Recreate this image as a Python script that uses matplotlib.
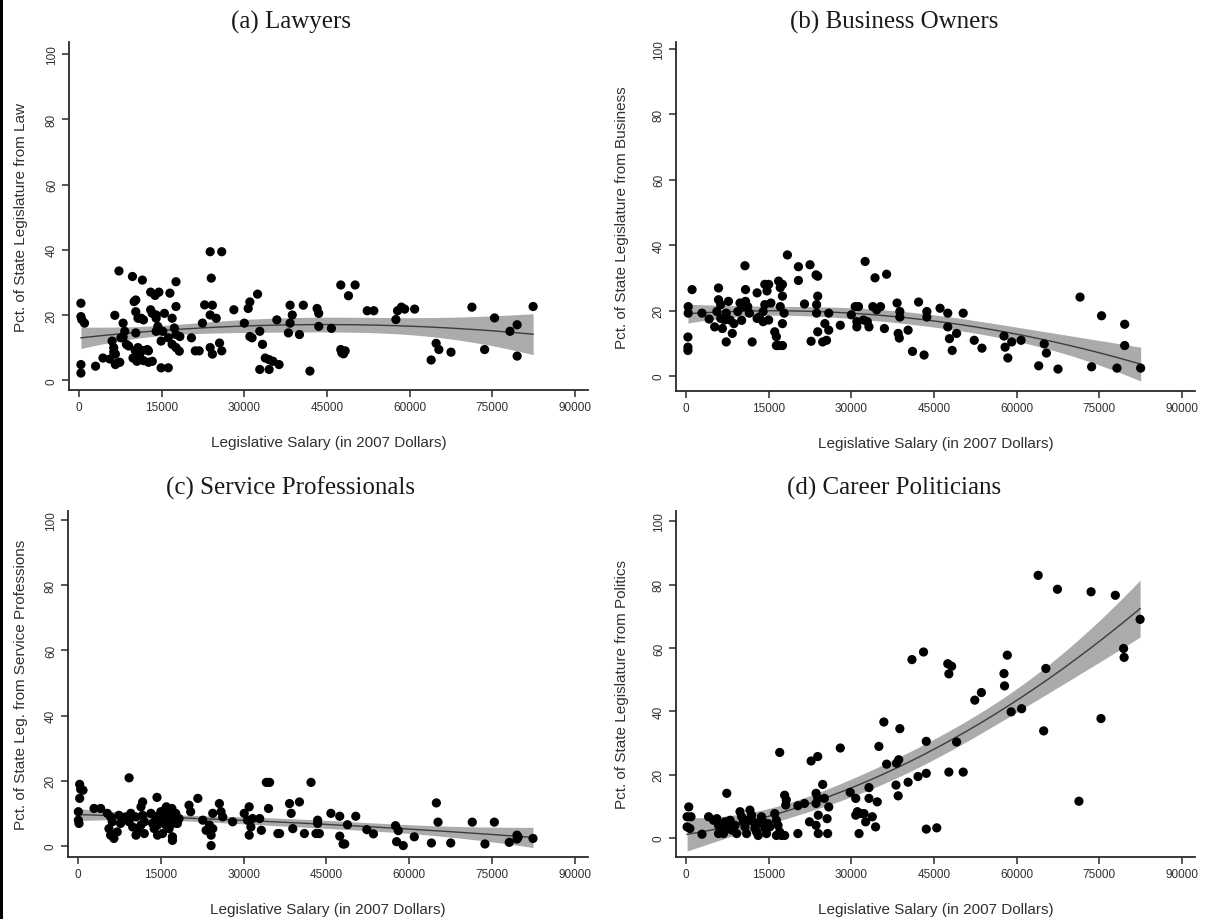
import numpy as np
import matplotlib
matplotlib.use("Agg")
import matplotlib.pyplot as plt
from matplotlib.patches import Rectangle

# ---------------- data ----------------
law_salary = [350, 350, 500, 1000, 350, 350, 3000, 4350, 6500, 7250,
              6000, 6300, 6600, 7000, 6600, 8000, 8300, 7600, 8600,
              9700, 10000, 10300, 10300, 10700, 10300, 11500, 11300, 11700,
              10700, 11000, 11700, 9800, 10500, 13000, 13800, 14500,
              13000, 13300, 14000, 12400, 13300, 14000, 14300, 14000, 14900,
              14900, 16200, 15500, 15200, 16500, 17600, 17600, 16900, 17300, 17600,
              16200, 16900, 17600, 18300, 18200, 20400, 21100, 21800,
              22800, 22400, 23800, 25900, 24000, 24200, 23800, 24900,
              23800, 24200, 25500, 25900, 28100, 30000, 30700, 31000,
              31000, 31400, 32400, 32800, 33300, 32800, 33800, 34500, 34500,
              35200, 36300, 35900, 38300, 38700, 38300, 38000, 40700, 40000,
              41900, 43200, 43500, 43500, 45800, 47500, 50100, 48900,
              47500, 48000, 48300, 47700, 52300, 53500, 57500, 57800, 58500,
              59100, 60900, 63900, 64800, 65300, 67500, 71300, 73600, 75400,
              78200, 79500, 79500, 82400,
              7400, 8000, 6300, 11500, 12600, 12600, 10200, 5600, 9000]
law_pct = [23.6, 19.5, 18.6, 17.5, 4.8, 2.2, 4.3, 6.8, 19.9, 33.5,
           12, 10, 8, 5.3, 4.8, 17.5, 15, 13, 11,
           31.8, 24.1, 24.6, 21, 19, 14.5, 30.7, 19, 18.5,
           10, 8, 6, 6.8, 5.8, 27, 26, 27,
           21.6, 20.5, 20, 9.4, 5.8, 19, 16.5, 15, 12,
           3.8, 3.8, 20.5, 15, 26.7, 30.2, 22.6, 19, 16, 14,
           13, 11, 10, 13.4, 8.9, 13, 9, 9,
           23.1, 17.5, 39.4, 39.4, 31.3, 23, 20, 19,
           10, 8, 11.4, 9, 21.6, 17.5, 22, 24,
           13.4, 13, 26.4, 15, 11, 3.3, 6.8, 6.3, 3.3,
           5.8, 4.8, 18.5, 23, 20, 17.5, 14.5, 23, 14,
           2.8, 22, 20.5, 16.5, 15.9, 29.2, 29.2, 25.9,
           9.4, 8.1, 9.0, 8.4, 21.3, 21.3, 18.6, 21.3, 22.4,
           21.8, 21.8, 6.2, 11.3, 9.4, 8.6, 22.4, 9.4, 19.1,
           15, 17, 7.4, 22.6,
           5.5, 13.2, 8.6, 9.1, 9.0, 5.5, 9.1, 6.5, 10.5]

bus_salary = [350, 350, 350, 400, 400, 1100, 2900, 4200, 5200,
              5900, 5900, 6300, 5600, 6300, 6600, 7300, 7700, 7300, 8000, 7000,
              8400, 8700, 9800, 9400, 10100, 10700, 10800, 10800, 11200, 11500, 10500,
              12000, 12900, 13300, 12900, 14000, 14300, 15000, 14700,
              14300, 15400, 14000, 15000, 16100, 16400, 16400, 16800,
              16800, 17100, 17500, 17500, 17100, 17800, 17500, 17500, 18400,
              20400, 20400, 21500, 22500, 22700, 23600, 23900,
              23900, 23700, 23700, 23900, 24800, 25500, 25200, 25900, 25900,
              28000, 30000, 30700, 31300, 31000, 31000, 32500, 32900, 33200, 32200,
              33900, 34600, 35300, 34300, 36400, 36000,
              38300, 38800, 38800, 38500, 38700, 40300, 41100, 42200, 43200, 43700, 43700,
              46100, 47500, 47500, 47800, 48300, 49100, 50300, 52300, 53700,
              57700, 57900, 58400, 59100, 60800, 64000, 65000, 65400, 67500,
              71500, 73600, 75400, 78200, 79600, 79600, 82500]
bus_pct = [11.9, 8.8, 7.8, 21.2, 19.2, 26.4, 19.2, 17.4, 15,
           26.9, 23.3, 21.8, 19.7, 17.6, 14.5, 10.4, 22.8, 19.2, 17.1, 17.1,
           13, 16, 22.3, 19.7, 17, 33.7, 26.4, 22.8, 21.2, 19.2, 21.2,
           10.4, 25.4, 18, 17.6, 19.7, 28, 28, 26,
           21.8, 22.3, 16.6, 17.1, 13.5, 12, 9.3, 9.3,
           29, 27, 28, 24.4, 21.2, 19.2, 16, 9.3, 37,
           33.4, 29.2, 22, 34, 10.6, 30.9, 30.5,
           24.4, 21.8, 19.2, 13.5, 10.4, 10.9, 16, 19.2, 14,
           15.5, 18.7, 21.2, 21.2, 15, 16.6, 35, 16.6, 15, 17.1,
           21.2, 20.2, 21.2, 30, 31.1, 14.5,
           22.3, 19.7, 18, 13, 11.6, 14, 7.5, 22.6, 6.4, 19.7, 18,
           20.7, 19.2, 15, 11.4, 7.8, 13, 19.2, 10.9, 8.5,
           12.2, 8.8, 5.5, 10.4, 10.9, 3.1, 9.8, 7, 2.1,
           24.1, 2.8, 18.4, 2.4, 15.8, 9.3, 2.4]

svc_salary = [300, 480, 900, 300, 60, 60, 180, 2900, 4100,
              5300, 5900, 6200, 5600, 5900, 6500, 7100, 7700, 7400,
              9250, 8650, 9250, 9900, 9560, 10500, 10800, 10500,
              11400, 11700, 11700, 12000, 11400, 12000, 13200, 13500, 13800,
              14300, 14700, 14400, 15300, 15300, 14400, 15900, 15900, 15600,
              16200, 16800, 16500, 17100, 17100, 17400, 17700, 18000, 18300,
              16000, 17000, 14000, 16500, 17500, 15000,
              20100, 20400, 21700, 22600, 23200, 23800, 24100, 24100, 24400, 24400,
              25600, 25900, 26200, 28000, 30100, 31000, 30700, 31300, 31000,
              31600, 32900, 33200, 34100, 34700, 34500, 36200, 36500,
              38300, 38600, 38900, 40100, 41000, 42200, 43400, 43400, 43100, 43700,
              45800, 47400, 47400, 48000, 48300, 48800, 50300, 52300, 53500,
              57500, 58000, 57700, 58900, 60900, 64000, 64900, 65200, 67500,
              71400, 73700, 75400, 78100, 79500, 79500, 79700, 82400]
svc_pct = [18.9, 17.4, 17.1, 14.6, 10.5, 7.9, 6.9, 11.5, 11.5,
           10, 8.9, 7.4, 5.3, 3.3, 2.3, 4.3, 6.9, 9.4,
           20.9, 8.9, 7.4, 5.8, 10, 8.9, 5.3, 3.3,
           12, 13.5, 9.4, 7.4, 6.4, 3.8, 10, 6.9, 5.3,
           14.9, 8.9, 6.4, 7.9, 3.8, 3.3, 11.5, 6.4, 10,
           8.9, 7.4, 5.3, 2.8, 1.7, 8.4, 10, 6.9, 8.4,
           12, 11.5, 9, 9.5, 7, 10.5,
           12.5, 10.5, 14.6, 7.9, 4.8, 6.4, 3.3, 0.1, 10, 5.3,
           13, 10.5, 8.9, 7.4, 10, 12, 7.9, 5.8, 3.3,
           8.4, 8.4, 4.8, 19.5, 19.5, 11.5, 3.8, 3.8,
           13, 10, 5.3, 13.5, 3.8, 19.5, 7.9, 6.9, 3.8, 3.8,
           10, 9.1, 3.0, 0.6, 0.6, 6.5, 9.1, 5, 3.7,
           6.2, 4.7, 1.3, 0.1, 2.8, 0.9, 13.2, 7.3, 0.9,
           7.3, 0.6, 7.3, 1.1, 3.3, 2.1, 2.7, 2.3]

pol_salary = [500, 200, 900, 200, 700, 2900,
              4100, 5000, 5600, 5900, 6500, 5900, 6800, 7400,
              7100, 7700, 8000, 8300, 8900, 9200,
              9800, 10100, 10400, 10700, 11000, 11300,
              11600, 11900, 12200, 12500, 12800, 13100,
              13700, 14000, 14300, 13100, 14600, 14900, 15200,
              16100, 16400, 16700, 16400, 17000, 17300, 17900,
              17000, 17900, 18200, 18100,
              20300, 20300, 21500, 22400, 22700, 23900,
              23600, 23900, 23600, 24000, 23600, 24000,
              24800, 25100, 25900, 25600, 25700, 28000, 29800,
              30800, 31100, 30800, 31700, 31400,
              32300, 32600, 33200, 33200, 33800, 34400, 34700,
              35000, 35900, 36400, 38100, 38500, 38200, 38600, 38800,
              40300, 42100, 43600, 43600, 43600, 45500,
              41000, 43100, 47500, 48200, 47700,
              58300, 57700, 57800, 52400, 53600, 65300,
              59000, 60900, 49100, 47700, 50300,
              63900, 67400, 73500, 77900, 75300, 64900, 71300,
              79400, 79500, 82400]
pol_pct = [9.8, 6.7, 6.7, 3.5, 3.0, 1.2,
           6.7, 5.6, 6.1, 4, 3, 1.4, 1.4, 14.1,
           5.1, 3.5, 5.6, 2.5, 4, 1.4,
           8.3, 6.7, 5.1, 3.5, 1.4, 5.6,
           8.8, 7.2, 5.1, 3.0, 1.9, 4.5,
           6.7, 5.1, 3.0, 0.8, 1.4, 4.5, 3.5,
           7.7, 5.6, 4, 0.8, 1.9, 0.8, 0.8,
           27, 13.5, 12, 10.4,
           1.4, 10.2, 10.9, 5.1, 24.3, 25.7,
           14.1, 12.5, 10.9, 7.2, 4, 1.4,
           16.9, 12.5, 9.8, 6.1, 1.4, 28.4, 14.4,
           12.5, 8.3, 7.2, 7.7, 1.4,
           7.7, 5.1, 15.9, 12.5, 6.7, 3.5, 11.4,
           28.9, 36.6, 23.3, 16.7, 13.3, 23.6, 24.7, 34.5,
           17.6, 19.4, 30.5, 20.4, 2.8, 3.2,
           56.3, 58.7, 55.0, 54.2, 51.8,
           57.7, 51.9, 48, 43.5, 45.9, 53.5,
           39.8, 40.8, 30.3, 20.8, 20.8,
           82.9, 78.5, 77.7, 76.6, 37.7, 33.8, 11.6,
           59.8, 57, 69]

titles = ["(a) Lawyers", "(b) Business Owners",
          "(c) Service Professionals", "(d) Career Politicians"]
ylabels = ["Pct. of State Legislature from Law",
           "Pct. of State Legislature from Business",
           "Pct. of State Leg. from Service Professions",
           "Pct. of State Legislature from Politics"]
xlabel = "Legislative Salary (in 2007 Dollars)"
xticks = [0, 15000, 30000, 45000, 60000, 75000, 90000]
yticks = [0, 20, 40, 60, 80, 100]

panels = [(law_salary, law_pct), (bus_salary, bus_pct),
          (svc_salary, svc_pct), (pol_salary, pol_pct)]


def qfitci(x, y, n_grid=200):
    """Quadratic fit with 95% CI of the prediction (as Stata's qfitci)."""
    x = np.asarray(x, float) / 1e4
    y = np.asarray(y, float)
    X = np.column_stack([np.ones_like(x), x, x ** 2])
    beta, *_ = np.linalg.lstsq(X, y, rcond=None)
    resid = y - X @ beta
    n, p = X.shape
    s2 = resid @ resid / (n - p)
    cov = s2 * np.linalg.inv(X.T @ X)
    xs = np.linspace(x.min(), x.max(), n_grid)
    Xs = np.column_stack([np.ones_like(xs), xs, xs ** 2])
    pred = Xs @ beta
    se = np.sqrt(np.einsum("ij,jk,ik->i", Xs, cov, Xs))
    t = 1.972
    return xs * 1e4, pred, pred - t * se, pred + t * se


# ---------------- figure ----------------
W, H = 1209, 920
fig = plt.figure(figsize=(W / 100, H / 100), dpi=100)
fig.patch.set_facecolor("white")

# axes rectangles in pixels: left, right, top, bottom ; y limits ;
# title y, y-label x, title x (pixels)
layout = [
    dict(l=69, r=588, t=43, b=391, ylim=(-3.0, 103.7), ty=22, lx=21, tx=291),
    dict(l=676, r=1195, t=43, b=392, ylim=(-4.6, 102.1), ty=22, lx=622, tx=894),
    dict(l=68, r=588, t=512, b=858, ylim=(-3.4, 102.8), ty=488, lx=21, tx=291),
    dict(l=676, r=1195, t=512, b=858, ylim=(-6.0, 103.2), ty=488, lx=622, tx=894),
]

sans = ["Liberation Sans", "DejaVu Sans"]
serif = ["Liberation Serif", "DejaVu Serif"]
axis_col = "#2a2a2a"

for i, ((xs_, ys_), L) in enumerate(zip(panels, layout)):
    w = L["r"] - L["l"]
    h = L["b"] - L["t"]
    ax = fig.add_axes([L["l"] / W, 1 - L["b"] / H, w / W, h / H])
    xg, pred, lo, hi = qfitci(xs_, ys_)
    ax.fill_between(xg, lo, hi, color="#ababab", lw=0, zorder=1)
    ax.plot(xg, pred, color="#3c3c3c", lw=1.0, zorder=2)
    ax.scatter(xs_, ys_, s=44, color="black", edgecolors="none", zorder=3)

    ax.set_xlim(-1815, 92360)
    ax.set_ylim(*L["ylim"])
    ax.set_xticks(xticks)
    ax.set_xticklabels([str(v) for v in xticks])
    ax.set_yticks(yticks)
    ax.set_yticklabels([str(v) for v in yticks], rotation=90, va="center")
    for s in ("top", "right"):
        ax.spines[s].set_visible(False)
    for s in ("left", "bottom"):
        ax.spines[s].set_color(axis_col)
        ax.spines[s].set_linewidth(1.3)
    ax.tick_params(direction="out", length=5, width=1.1, color=axis_col,
                   labelsize=8.5, labelcolor="#303030", pad=3)
    for lab in ax.get_xticklabels() + ax.get_yticklabels():
        lab.set_fontfamily(sans)

    ax.set_xlabel(xlabel, fontsize=11, family=sans, color="#303030")
    ax.xaxis.set_label_coords(0.5, -52 / h)
    ax.xaxis.label.set_va("center")
    ax.set_ylabel(ylabels[i], fontsize=11, family=sans, color="#303030")
    ax.yaxis.set_label_coords((L["lx"] - L["l"]) / w, 0.5)
    ax.yaxis.label.set_va("center")

    fig.text(L["tx"] / W, 1 - L["ty"] / H, titles[i], ha="center", va="center",
             fontsize=18, family=serif, color="#1a1a1a")

# dark border at the left edge of the reference image
fig.add_artist(Rectangle((0, 0), 3 / W, 1, transform=fig.transFigure,
                         color="black", lw=0))

fig.savefig("out.png", dpi=100, facecolor="white")
